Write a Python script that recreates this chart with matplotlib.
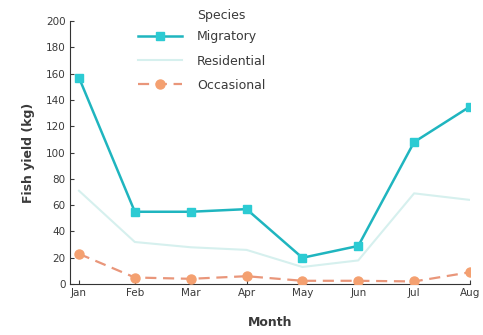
import matplotlib
matplotlib.use("Agg")
from matplotlib import pyplot as plt
import numpy as np

# Data
months = ["Jan", "Feb", "Mar", "Apr", "May", "Jun", "Jul", "Aug"]
migratory = [157, 55, 55, 57, 20, 29, 108, 135]
residential = [71, 32, 28, 26, 13, 18, 69, 64]
occasional = [23, 5, 4, 6, 2.5, 2.5, 2, 9]

plt.rcParams["font.family"] = ["DejaVu Sans"]
txt = "#3a3a3a"

fig = plt.figure(figsize=(4.83, 3.35), dpi=100)
ax = fig.add_axes([0.145, 0.152, 0.828, 0.785])

x = np.arange(len(months))
ax.plot(x, migratory, color="#1fb5bf", lw=1.8, marker="s", ms=5.5,
        mfc="#2ccbd3", mec="#2ccbd3", label="Migratory", zorder=3)
ax.plot(x, residential, color="#d6f0ee", lw=1.5, label="Residential", zorder=2)
ax.plot(x, occasional, color="#e9967a", lw=1.6, ls=(0, (5, 3)), marker="o", ms=6.5,
        mfc="#f4a070", mec="#f4a070", label="Occasional", zorder=3)

ax.set_xlim(-0.16, 7)
ax.set_ylim(0, 200)
ax.set_yticks(range(0, 201, 20))
ax.set_xticks(x)
ax.set_xticklabels(months)
ax.tick_params(direction="in", length=3, colors=txt, labelsize=7.5, pad=3)
for s in ["top", "right"]:
    ax.spines[s].set_visible(False)
for s in ["left", "bottom"]:
    ax.spines[s].set_color("#333333")

ax.set_xlabel("Month", fontsize=9, fontweight="bold", color=txt, labelpad=13)
ax.set_ylabel("Fish yield (kg)", fontsize=9, fontweight="bold", color=txt, labelpad=8)

leg = ax.legend(frameon=False, loc="upper left", bbox_to_anchor=(0.17, 0.965),
                fontsize=9, handlelength=3.5, handletextpad=1.2,
                labelspacing=0.9, borderaxespad=0, borderpad=0)
for t in leg.get_texts():
    t.set_color(txt)
fig.text(197 / 483, 1 - 15 / 335, "Species", fontsize=9, color=txt,
         ha="left", va="center")

fig.savefig("out.png", dpi=100)
